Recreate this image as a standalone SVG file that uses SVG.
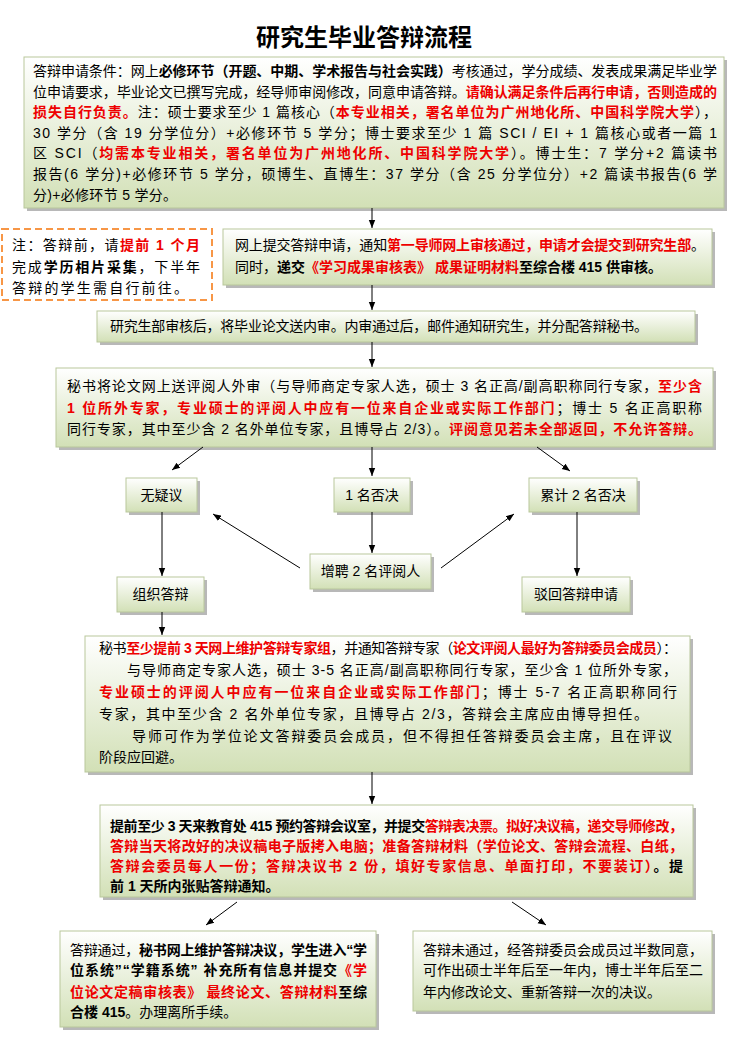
<svg xmlns="http://www.w3.org/2000/svg" width="729" height="1040" viewBox="0 0 729 1040">
<defs>
<linearGradient id="g" x1="0" y1="0" x2="0" y2="1"><stop offset="0" stop-color="#ffffff"/><stop offset="1" stop-color="#d2e0b6"/></linearGradient>
<marker id="ah" markerWidth="8" markerHeight="8" viewBox="0 0 10 10" refX="10" refY="5" orient="auto" markerUnits="userSpaceOnUse"><path d="M0,1 L10,5 L0,9 z" fill="#000"/></marker>
</defs>
<style>
text { font-family: "Liberation Sans","Noto Sans CJK SC",sans-serif; font-size:14px; fill:#000; }
.b{font-weight:bold}
.r{fill:#ee0000;font-weight:bold}
.box{fill:url(#g);stroke:#b9c79c;stroke-width:1}
.sh{fill:#b8b8b8}
.c{stroke:#000;stroke-width:1;fill:none;marker-end:url(#ah)}
.m{text-anchor:middle}
.t{font-size:24px;font-weight:bold}
</style>
<rect width="729" height="1040" fill="#fff"/>
<text class="t m" x="364" y="46">研究生毕业答辩流程</text>

<g id="conditions">
<rect class="sh" x="27" y="60" width="700" height="151"/>
<rect class="box" x="24" y="57" width="700" height="151"/>
<text x="33" y="76" textLength="684" lengthAdjust="spacing">答辩申请条件：网上<tspan class="b">必修环节（开题、中期、学术报告与社会实践）</tspan>考核通过，学分成绩、发表成果满足毕业学</text>
<text x="33" y="97" textLength="684" lengthAdjust="spacing">位申请要求，毕业论文已撰写完成，经导师审阅修改，同意申请答辩。<tspan class="r">请确认满足条件后再行申请，否则造成的</tspan></text>
<text x="33" y="117" textLength="684" lengthAdjust="spacing"><tspan class="r">损失自行负责。</tspan>注：硕士要求至少 1 篇核心（<tspan class="r">本专业相关，署名单位为广州地化所、中国科学院大学</tspan>），</text>
<text x="33" y="138" textLength="684" lengthAdjust="spacing">30 学分（含 19 分学位分）+必修环节 5 学分；博士要求至少 1 篇 SCI / EI + 1 篇核心或者一篇 1</text>
<text x="33" y="158" textLength="684" lengthAdjust="spacing">区 SCI（<tspan class="r">均需本专业相关，署名单位为广州地化所、中国科学院大学</tspan>）。博士生：7 学分+2 篇读书</text>
<text x="33" y="179" textLength="684" lengthAdjust="spacing">报告(6 学分)+必修环节 5 学分，硕博生、直博生：37 学分（含 25 分学位分）+2 篇读书报告(6 学</text>
<text x="33" y="200" textLength="144" lengthAdjust="spacing">分)+必修环节 5 学分。</text>
</g>

<g id="note">
<rect x="2" y="229" width="210" height="71" fill="#fff" stroke="#f79646" stroke-width="2" stroke-dasharray="7,4"/>
<text x="12" y="250" textLength="188" lengthAdjust="spacing">注：答辩前，请<tspan class="r">提前 1 个月</tspan></text>
<text x="12" y="272" textLength="188" lengthAdjust="spacing">完成<tspan class="b">学历相片采集</tspan>，下半年</text>
<text x="12" y="293" textLength="176" lengthAdjust="spacing">答辩的学生需自行前往。</text>
</g>

<g id="submit">
<rect class="sh" x="226" y="232" width="489" height="56"/>
<rect class="box" x="223" y="229" width="489" height="56"/>
<text x="235" y="250" textLength="470" lengthAdjust="spacing">网上提交答辩申请，通知<tspan class="r">第一导师网上审核通过，申请才会提交到研究生部</tspan>。</text>
<text x="235" y="272">同时，<tspan class="b">递交</tspan><tspan class="r">《学习成果审核表》 成果证明材料</tspan><tspan class="b">至综合楼 415 供审核。</tspan></text>
</g>

<g id="internal">
<rect class="sh" x="100" y="314" width="598" height="31"/>
<rect class="box" x="97" y="311" width="598" height="31"/>
<text x="110" y="331" textLength="538" lengthAdjust="spacing">研究生部审核后，将毕业论文送内审。内审通过后，邮件通知研究生，并分配答辩秘书。</text>
</g>

<g id="review">
<rect class="sh" x="59" y="371" width="657" height="79"/>
<rect class="box" x="56" y="368" width="657" height="79"/>
<text x="67" y="391" textLength="635" lengthAdjust="spacing">秘书将论文网上送评阅人外审（与导师商定专家人选，硕士 3 名正高/副高职称同行专家，<tspan class="r">至少含</tspan></text>
<text x="67" y="413" textLength="635" lengthAdjust="spacing"><tspan class="r">1 位所外专家，专业硕士的评阅人中应有一位来自企业或实际工作部门</tspan>；博士 5 名正高职称</text>
<text x="67" y="434" textLength="635" lengthAdjust="spacing">同行专家，其中至少含 2 名外单位专家，且博导占 2/3）。<tspan class="r">评阅意见若未全部返回，不允许答辩。</tspan></text>
</g>

<g id="no-objection">
<rect class="sh" x="129" y="481" width="71" height="34"/>
<rect class="box" x="126" y="478" width="71" height="34"/>
<text class="m" x="161.5" y="500">无疑议</text>
</g>
<g id="one-veto">
<rect class="sh" x="337" y="481" width="76" height="34"/>
<rect class="box" x="334" y="478" width="76" height="34"/>
<text class="m" x="372" y="500">1 名否决</text>
</g>
<g id="two-veto">
<rect class="sh" x="532" y="481" width="108" height="34"/>
<rect class="box" x="529" y="478" width="108" height="34"/>
<text class="m" x="583" y="500">累计 2 名否决</text>
</g>
<g id="add-reviewers">
<rect class="sh" x="313" y="557" width="121" height="35"/>
<rect class="box" x="310" y="554" width="121" height="35"/>
<text class="m" x="370.5" y="576">增聘 2 名评阅人</text>
</g>
<g id="organize">
<rect class="sh" x="120" y="580" width="87" height="35"/>
<rect class="box" x="117" y="577" width="87" height="35"/>
<text class="m" x="160.5" y="599">组织答辩</text>
</g>
<g id="reject">
<rect class="sh" x="525" y="580" width="108" height="35"/>
<rect class="box" x="522" y="577" width="108" height="35"/>
<text class="m" x="576" y="599">驳回答辩申请</text>
</g>

<g id="committee">
<rect class="sh" x="88" y="639" width="605" height="136"/>
<rect class="box" x="85" y="636" width="605" height="136"/>
<text x="99" y="653" textLength="578" lengthAdjust="spacing">秘书<tspan class="r">至少提前 3 天网上维护答辩专家组</tspan>，并通知答辩专家（<tspan class="r">论文评阅人最好为答辩委员会成员</tspan>）：</text>
<text x="127" y="675" textLength="550" lengthAdjust="spacing">与导师商定专家人选，硕士 3-5 名正高/副高职称同行专家，至少含 1 位所外专家，</text>
<text x="99" y="697" textLength="578" lengthAdjust="spacing"><tspan class="r">专业硕士的评阅人中应有一位来自企业或实际工作部门</tspan>；博士 5-7 名正高职称同行</text>
<text x="99" y="719" textLength="549" lengthAdjust="spacing">专家，其中至少含 2 名外单位专家，且博导占 2/3，答辩会主席应由博导担任。</text>
<text x="132" y="741" textLength="540" lengthAdjust="spacing">导师可作为学位论文答辩委员会成员，但不得担任答辩委员会主席，且在评议</text>
<text x="99" y="762">阶段应回避。</text>
</g>

<g id="booking">
<rect class="sh" x="103" y="808" width="593" height="92"/>
<rect class="box" x="100" y="805" width="593" height="92"/>
<text x="110" y="831" textLength="573" lengthAdjust="spacing"><tspan class="b">提前至少 3 天来教育处 415 预约答辩会议室，并提交</tspan><tspan class="r">答辩表决票。拟好决议稿，递交导师修改，</tspan></text>
<text x="110" y="851" textLength="573" lengthAdjust="spacing"><tspan class="r">答辩当天将改好的决议稿电子版拷入电脑；准备答辩材料（学位论文、答辩会流程、白纸，</tspan></text>
<text x="110" y="871" textLength="573" lengthAdjust="spacing"><tspan class="r">答辩会委员每人一份；答辩决议书 2 份，填好专家信息、单面打印，不要装订）</tspan><tspan class="b">。提</tspan></text>
<text x="110" y="891" class="b">前 1 天所内张贴答辩通知。</text>
</g>

<g id="passed">
<rect class="sh" x="63" y="934" width="316" height="96"/>
<rect class="box" x="60" y="931" width="316" height="96"/>
<text x="70" y="955" textLength="297" lengthAdjust="spacing">答辩通过，<tspan class="b">秘书网上维护答辩决议，学生进入“学</tspan></text>
<text x="70" y="975" textLength="297" lengthAdjust="spacing"><tspan class="b">位系统”“学籍系统” 补充所有信息并提交</tspan><tspan class="r">《学</tspan></text>
<text x="70" y="997" textLength="297" lengthAdjust="spacing"><tspan class="r">位论文定稿审核表》 最终论文、答辩材料</tspan><tspan class="b">至综</tspan></text>
<text x="70" y="1017"><tspan class="b">合楼 415</tspan>。办理离所手续。</text>
</g>

<g id="failed">
<rect class="sh" x="416" y="934" width="299" height="80"/>
<rect class="box" x="413" y="931" width="299" height="80"/>
<text x="423" y="955" textLength="280" lengthAdjust="spacing">答辩未通过，经答辩委员会成员过半数同意，</text>
<text x="423" y="975" textLength="280" lengthAdjust="spacing">可作出硕士半年后至一年内，博士半年后至二</text>
<text x="423" y="997">年内修改论文、重新答辩一次的决议。</text>
</g>

<g id="connectors">
<line class="c" x1="372" y1="208" x2="372" y2="228"/>
<line class="c" x1="372" y1="285" x2="372" y2="310"/>
<line class="c" x1="372" y1="342" x2="372" y2="367"/>
<line class="c" x1="203" y1="447" x2="172" y2="470"/>
<line class="c" x1="372" y1="447" x2="372" y2="476"/>
<line class="c" x1="537" y1="447" x2="570" y2="471"/>
<line class="c" x1="162" y1="512" x2="162" y2="576"/>
<line class="c" x1="372" y1="512" x2="372" y2="553"/>
<line class="c" x1="577" y1="512" x2="577" y2="576"/>
<line class="c" x1="300" y1="568" x2="213" y2="514"/>
<line class="c" x1="441" y1="568" x2="514" y2="514"/>
<line class="c" x1="162" y1="612" x2="162" y2="635"/>
<line class="c" x1="372" y1="772" x2="372" y2="804"/>
<line class="c" x1="237" y1="902" x2="206" y2="925"/>
<line class="c" x1="512" y1="902" x2="546" y2="925"/>
</g>
</svg>
